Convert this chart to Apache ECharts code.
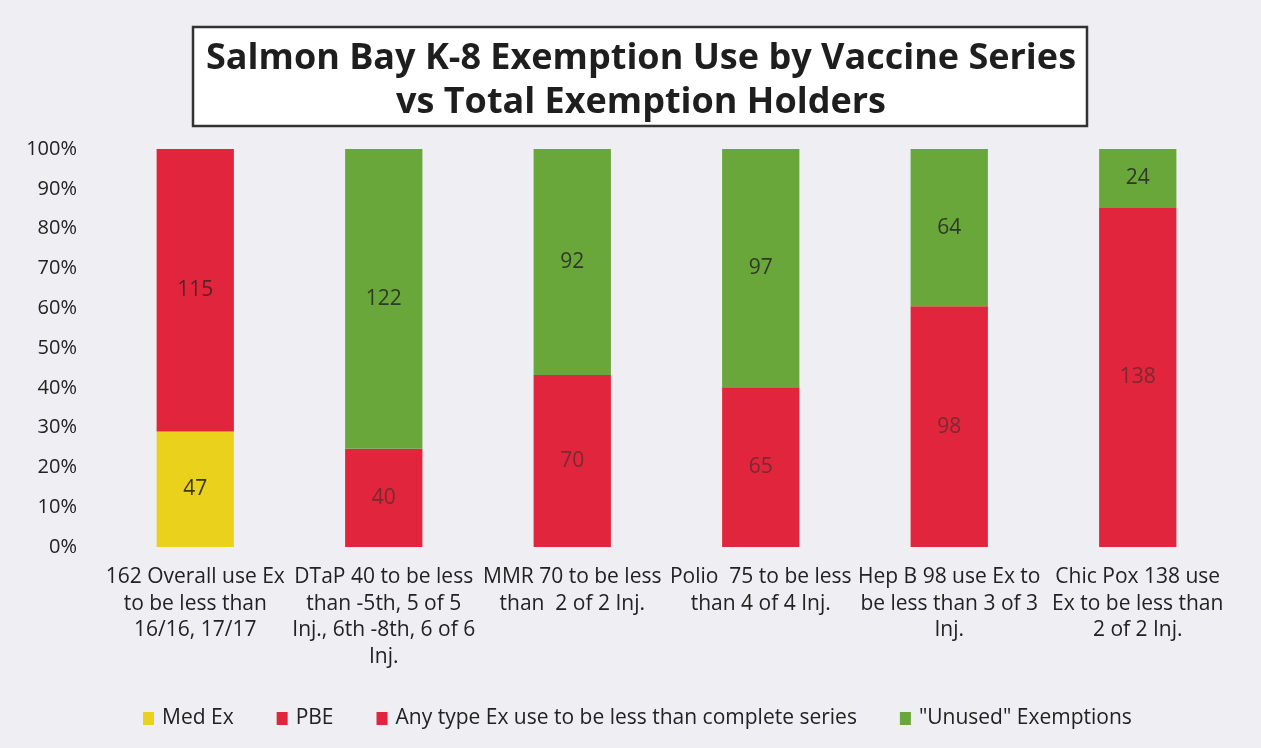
<!DOCTYPE html>
<html>
<head>
<meta charset="utf-8">
<script src="https://cdn.jsdelivr.net/npm/echarts@6/dist/echarts.min.js"></script>
<style>
html,body{margin:0;padding:0;background:#efeef2;}
#chart{width:1261px;height:748px;}
</style>
</head>
<body>
<div id="chart"></div>
<script>
const categories = [
  "162 Overall use Ex\nto be less than\n16/16, 17/17",
  "DTaP 40 to be less\nthan -5th, 5 of 5\nInj., 6th -8th, 6 of 6\nInj.",
  "MMR 70 to be less\nthan  2 of 2 Inj.",
  "Polio  75 to be less\nthan 4 of 4 Inj.",
  "Hep B 98 use Ex to\nbe less than 3 of 3\nInj.",
  "Chic Pox 138 use\nEx to be less than\n2 of 2 Inj."
];
const seriesNames = ["Med Ex", "PBE", "Any type Ex use to be less than complete series", "\"Unused\" Exemptions"];
const medEx   = [47, null, null, null, null, null];
const pbe     = [115, null, null, null, null, null];
const anyType = [null, 40, 70, 65, 98, 138];
const unused  = [null, 122, 92, 97, 64, 24];
const yTickLabels = ["0%","10%","20%","30%","40%","50%","60%","70%","80%","90%","100%"];

const raw = [medEx, pbe, anyType, unused];
const totals = categories.map((_, i) => raw.reduce((s, arr) => s + (arr[i] || 0), 0));
const colors = ["#ead21c", "#e0253d", "#e0253d", "#6aa73a"];
const labelColors = ["#3a3420", "#5a2228", "#7a2a30", "#2e3a28"];
const FONT = "Open Sans";

const series = raw.map((arr, k) => ({
  name: seriesNames[k],
  type: "bar",
  stack: "total",
  barWidth: "41%",
  itemStyle: { color: colors[k] },
  label: {
    show: true,
    position: "inside",
    color: labelColors[k],
    fontFamily: FONT,
    fontSize: 21,
    formatter: p => raw[k][p.dataIndex] == null ? "" : String(raw[k][p.dataIndex])
  },
  data: arr.map((v, i) => v == null ? null : v / totals[i] * 100)
}));

const chart = echarts.init(document.getElementById("chart"), null, { renderer: "canvas" });
chart.setOption({
  backgroundColor: "#efeef2",
  animation: false,
  textStyle: { fontFamily: FONT },
  grid: { left: 101, right: 29, top: 149, bottom: 201, containLabel: false },
  graphic: [
    { type: "rect", shape: { x: 193, y: 27, width: 894, height: 99 },
      style: { fill: "#ffffff", stroke: "#333333", lineWidth: 2.5 } },
    { type: "text", x: 641, y: 81,
      style: { text: "Salmon Bay K-8 Exemption Use by Vaccine Series\nvs Total Exemption Holders",
        fill: "#1e1e1e", font: "bold 36px 'Open Sans'", align: "center", verticalAlign: "middle", lineHeight: 44 } }
  ],
  legend: {
    left: 138, top: 703,
    itemWidth: 11, itemHeight: 13, itemGap: 43,
    icon: "rect",
    textStyle: { fontSize: 21, color: "#222", fontFamily: FONT, padding: [0, 0, 0, 3] },
    data: seriesNames
  },
  xAxis: {
    type: "category",
    data: categories,
    axisLine: { show: false },
    axisTick: { show: false },
    axisLabel: { interval: 0, fontSize: 21, lineHeight: 26.5, color: "#222", margin: 17, fontFamily: FONT }
  },
  yAxis: {
    type: "value",
    min: 0, max: 100, interval: 10,
    splitLine: { show: false },
    axisLine: { show: false },
    axisTick: { show: false },
    axisLabel: { fontSize: 20, color: "#222", margin: 24, fontFamily: FONT,
      formatter: v => yTickLabels[Math.round(v / 10)] }
  },
  series: series
});
</script>
</body>
</html>
